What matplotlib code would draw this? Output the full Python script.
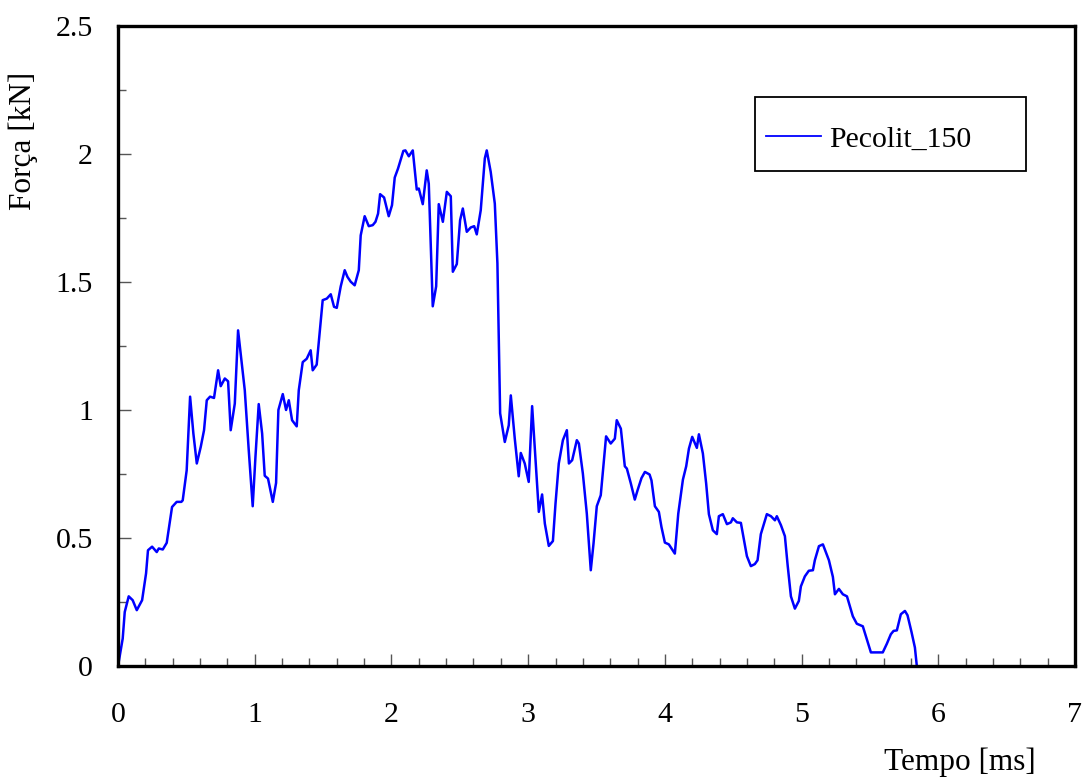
import matplotlib.pyplot as plt
from matplotlib.patches import Rectangle
from matplotlib.ticker import MultipleLocator

# 读取的数据 (tempo em ms, força em kN)
tempo = [0.0, 0.034, 0.049, 0.078, 0.107, 0.137, 0.176, 0.205, 0.219, 0.249,
         0.283, 0.298, 0.327, 0.356, 0.395, 0.429, 0.463, 0.473, 0.502, 0.527,
         0.551, 0.576, 0.605, 0.629, 0.649, 0.673, 0.702, 0.732, 0.751, 0.781,
         0.805, 0.824, 0.854, 0.878, 0.927, 0.956, 0.985, 1.005, 1.029, 1.054,
         1.073, 1.097, 1.132, 1.156, 1.173, 1.205, 1.229, 1.249, 1.273, 1.307,
         1.322, 1.351, 1.380, 1.409, 1.424, 1.453, 1.497, 1.527, 1.556, 1.580,
         1.600, 1.629, 1.658, 1.678, 1.702, 1.731, 1.761, 1.775, 1.804, 1.834,
         1.863, 1.883, 1.902, 1.917, 1.946, 1.980, 2.004, 2.024, 2.048, 2.063,
         2.087, 2.102, 2.127, 2.156, 2.185, 2.200, 2.229, 2.258, 2.273, 2.302,
         2.327, 2.346, 2.376, 2.405, 2.434, 2.449, 2.478, 2.502, 2.522, 2.551,
         2.580, 2.605, 2.624, 2.653, 2.683, 2.697, 2.726, 2.756, 2.775, 2.795,
         2.829, 2.858, 2.873, 2.902, 2.931, 2.946, 2.975, 3.004, 3.029, 3.053,
         3.078, 3.102, 3.122, 3.151, 3.181, 3.200, 3.224, 3.254, 3.283, 3.298,
         3.322, 3.356, 3.371, 3.400, 3.429, 3.458, 3.478, 3.502, 3.531, 3.570,
         3.604, 3.634, 3.648, 3.678, 3.707, 3.722, 3.751, 3.780, 3.800, 3.829,
         3.854, 3.888, 3.902, 3.927, 3.956, 3.975, 4.000, 4.029, 4.073, 4.098,
         4.132, 4.156, 4.176, 4.200, 4.234, 4.249, 4.278, 4.302, 4.322, 4.351,
         4.380, 4.395, 4.424, 4.454, 4.483, 4.497, 4.527, 4.556, 4.580, 4.600,
         4.629, 4.658, 4.678, 4.702, 4.746, 4.776, 4.805, 4.819, 4.849, 4.878,
         4.898, 4.922, 4.951, 4.980, 4.995, 5.024, 5.053, 5.083, 5.097, 5.127,
         5.156, 5.200, 5.229, 5.244, 5.273, 5.302, 5.332, 5.361, 5.375, 5.404,
         5.448, 5.507, 5.594, 5.624, 5.653, 5.673, 5.697, 5.726, 5.756, 5.775,
         5.804, 5.829, 5.843]
forca = [0.0, 0.107, 0.211, 0.272, 0.257, 0.218, 0.257, 0.362, 0.452, 0.466,
         0.445, 0.459, 0.455, 0.481, 0.621, 0.641, 0.641, 0.647, 0.764, 1.052,
         0.908, 0.791, 0.856, 0.921, 1.038, 1.052, 1.047, 1.155, 1.093, 1.123,
         1.112, 0.921, 1.025, 1.311, 1.077, 0.843, 0.624, 0.816, 1.023, 0.908,
         0.743, 0.732, 0.641, 0.715, 1.000, 1.062, 1.000, 1.038, 0.960, 0.936,
         1.077, 1.187, 1.200, 1.233, 1.155, 1.177, 1.429, 1.435, 1.452, 1.403,
         1.399, 1.483, 1.546, 1.520, 1.501, 1.487, 1.546, 1.682, 1.757, 1.718,
         1.722, 1.735, 1.767, 1.843, 1.830, 1.757, 1.800, 1.908, 1.943, 1.969,
         2.012, 2.014, 1.991, 2.014, 1.861, 1.865, 1.804, 1.936, 1.884, 1.405,
         1.483, 1.804, 1.735, 1.852, 1.835, 1.540, 1.570, 1.741, 1.787, 1.696,
         1.713, 1.718, 1.686, 1.780, 1.983, 2.014, 1.930, 1.806, 1.573, 0.987,
         0.875, 0.940, 1.057, 0.888, 0.741, 0.832, 0.791, 0.719, 1.015, 0.816,
         0.602, 0.670, 0.556, 0.469, 0.488, 0.634, 0.791, 0.882, 0.921, 0.791,
         0.804, 0.882, 0.869, 0.752, 0.595, 0.374, 0.478, 0.624, 0.667, 0.897,
         0.869, 0.888, 0.960, 0.927, 0.780, 0.771, 0.713, 0.650, 0.686, 0.734,
         0.758, 0.748, 0.725, 0.624, 0.602, 0.543, 0.482, 0.475, 0.439, 0.595,
         0.728, 0.780, 0.849, 0.895, 0.852, 0.905, 0.830, 0.713, 0.593, 0.530,
         0.515, 0.585, 0.593, 0.554, 0.561, 0.577, 0.561, 0.559, 0.489, 0.429,
         0.390, 0.398, 0.413, 0.515, 0.593, 0.585, 0.569, 0.585, 0.550, 0.507,
         0.394, 0.272, 0.224, 0.254, 0.311, 0.350, 0.372, 0.374, 0.413, 0.468,
         0.475, 0.413, 0.348, 0.280, 0.301, 0.280, 0.272, 0.220, 0.194, 0.165,
         0.155, 0.053, 0.053, 0.087, 0.124, 0.137, 0.139, 0.202, 0.215, 0.198,
         0.133, 0.072, 0.0]

plt.rcParams['font.family'] = ['Liberation Serif', 'DejaVu Serif']

fig = plt.figure(figsize=(10.83, 7.78), dpi=100)
ax = fig.add_axes([0.109, 0.144, 0.8836, 0.8226])

ax.plot(tempo, forca, color='#0000ff', linewidth=1.8, label='Pecolit_150')

ax.set_xlim(0, 7)
ax.set_ylim(0, 2.5)
ax.xaxis.set_major_locator(MultipleLocator(1))
ax.xaxis.set_minor_locator(MultipleLocator(0.2))
ax.yaxis.set_major_locator(MultipleLocator(0.5))
ax.yaxis.set_minor_locator(MultipleLocator(0.25))
ax.xaxis.set_major_formatter(plt.FuncFormatter(lambda v, p: '%g' % v))
ax.yaxis.set_major_formatter(plt.FuncFormatter(lambda v, p: '%g' % v))

ax.tick_params(which='both', direction='in', color='#555555', width=1,
               labelsize=21.5)
ax.tick_params(which='major', length=9)
ax.tick_params(which='minor', length=6)
ax.tick_params(axis='x', which='major', pad=26)
ax.tick_params(axis='y', which='major', pad=18)

for s in ax.spines.values():
    s.set_linewidth(2.4)
    s.set_color('black')

# 坐标轴标签
ax.text(-0.099, 0.82, 'Força [kN]', transform=ax.transAxes, rotation=90,
        ha='center', va='center', fontsize=22.5)
ax.text(0.88, -0.15, 'Tempo [ms]', transform=ax.transAxes,
        ha='center', va='center', fontsize=22.5)

# 图例：外框单独画
ax.add_patch(Rectangle((0.6656, 0.7734), 0.2832, 0.1156, transform=ax.transAxes,
                       facecolor='white', edgecolor='black', linewidth=1.3,
                       zorder=4))
leg = ax.legend(loc='center left', bbox_to_anchor=(0.677, 0.8234),
                fontsize=21.5, frameon=False,
                handlelength=1.85, handletextpad=0.27, borderpad=0,
                borderaxespad=0)
leg.set_zorder(5)
leg.get_lines()[0].set_linewidth(1.3)

fig.savefig('out.png', dpi=100)
